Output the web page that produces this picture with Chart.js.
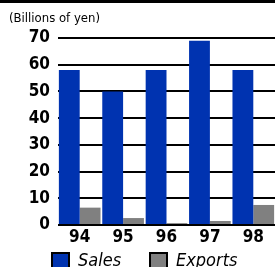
<!DOCTYPE html>
<html>
<head>
<meta charset="utf-8">
<script src="https://cdn.jsdelivr.net/npm/chart.js@4.4.0/dist/chart.umd.min.js"></script>
<style>
  html, body { margin: 0; padding: 0; background: #fff; }
  #wrap { position: relative; width: 275px; height: 267px; overflow: hidden; }
  #topline { position: absolute; left: 0; top: 0; width: 275px; height: 3px; background: #000; }
  #unit { position: absolute; left: 9px; top: 10px; font: 13px "DejaVu Sans Condensed", "Liberation Sans", sans-serif; color: #000; }
  canvas { position: absolute; left: 0; top: 0; }
  .legend-item { position: absolute; top: 249px; font: italic 18px "DejaVu Sans Condensed", "Liberation Sans", sans-serif; color: #000; white-space: nowrap; padding-left: 27px; }
  .legend-item i { position: absolute; left: 0; top: 3px; width: 15px; height: 13px; border: 2px solid #000; }
</style>
</head>
<body>
<div id="wrap">
  <canvas id="chart" width="275" height="267"></canvas>
  <div id="topline"></div>
  <div id="unit">(Billions of yen)</div>
  <div id="legend"></div>
</div>
<script>
const years = ["94", "95", "96", "97", "98"];
const sales = [58, 50, 58, 69, 58];
const exportsData = [6.5, 2.6, 0.7, 1.5, 7.5];
const yTicks = [0, 10, 20, 30, 40, 50, 60, 70];

const fontFamily = '"DejaVu Sans Condensed", "Liberation Sans", sans-serif';
const ctx = document.querySelector('#chart').getContext("2d");

const chart = new Chart(ctx, {
  type: 'bar',
  data: {
    labels: years,
    datasets: [
      {
        label: 'Sales',
        data: sales,
        backgroundColor: '#0033b0',
        borderWidth: 0,
        barPercentage: 1,
        categoryPercentage: 0.96
      },
      {
        label: 'Exports',
        data: exportsData,
        backgroundColor: '#808080',
        borderWidth: 0,
        barPercentage: 1,
        categoryPercentage: 0.96
      }
    ]
  },
  options: {
    responsive: false,
    animation: false,
    layout: { padding: { top: 38, right: 0, left: 0, bottom: 20 } },
    scales: {
      x: {
        afterFit: (scale) => {
          scale.height = 22;
        },
        grid: { display: false },
        border: { display: false },
        ticks: {
          color: '#000',
          padding: -6,
          font: { family: fontFamily, size: 17, weight: 'bold' }
        }
      },
      y: {
        min: 0,
        max: 70,
        afterBuildTicks: (scale) => {
          scale.ticks = yTicks.map(v => ({ value: v }));
        },
        afterFit: (scale) => {
          scale.width = 58;
        },
        grid: { color: '#000', lineWidth: 2, drawTicks: false },
        border: { display: false },
        ticks: {
          color: '#000',
          padding: 8,
          font: { family: fontFamily, size: 17, weight: 'bold' }
        }
      }
    },
    plugins: {
      tooltip: { enabled: false },
      legend: { display: false }
    }
  }
});

// legend drawn as html, colours taken from the datasets
const legendLeft = [51, 149];
const legend = document.querySelector('#legend');
chart.data.datasets.forEach((ds, i) => {
  const item = document.createElement('div');
  item.className = 'legend-item';
  item.style.left = legendLeft[i] + 'px';
  item.innerHTML = '<i style="background:' + ds.backgroundColor + '"></i>' + ds.label;
  legend.appendChild(item);
});
</script>
</body>
</html>
